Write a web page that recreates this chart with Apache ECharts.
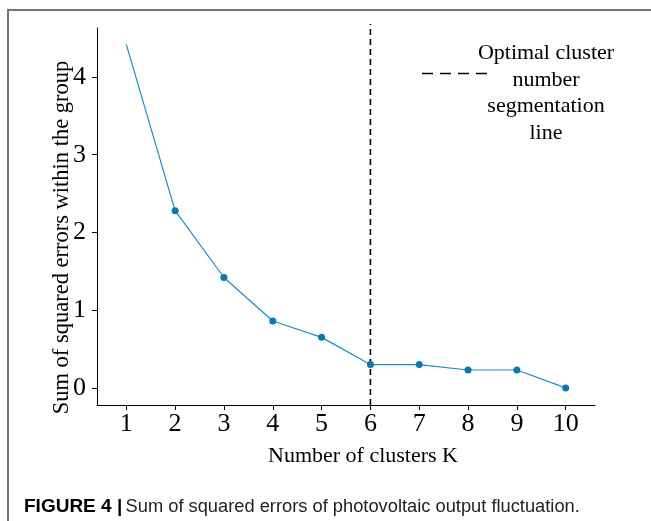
<!DOCTYPE html>
<html>
<head>
<meta charset="utf-8">
<script src="https://cdn.jsdelivr.net/npm/echarts@6/dist/echarts.min.js"></script>
<style>html,body{margin:0;padding:0;background:#fff;}#c{width:651px;height:521px;}</style>
</head>
<body>
<div id="c"></div>
<script>
const clusters = [1, 2, 3, 4, 5, 6, 7, 8, 9, 10];
const sse = [4.42, 2.28, 1.42, 0.86, 0.65, 0.30, 0.30, 0.23, 0.23, 0.00];
const yTicks = [0, 1, 2, 3, 4];
const optimalK = 6;
const yAxisTitle = 'Sum of squared errors within the group';
const xAxisTitle = 'Number of clusters K';
const legendLines = ['Optimal cluster', 'number', 'segmentation', 'line'];
const captionBold = 'FIGURE 4 |';
const captionText = 'Sum of squared errors of photovoltaic output fluctuation.';

const serif = '"Liberation Serif", "Times New Roman", serif';
const yMin = -0.22, yMax = 4.63;

const chart = echarts.init(document.getElementById('c'), null, {renderer: 'canvas'});
chart.setOption({
  animation: false,
  backgroundColor: '#fff',
  grid: {left: 97, right: 56, top: 28, bottom: 116},
  xAxis: {
    type: 'value', min: 0.4, max: 10.6,
    axisLine: {show: true, onZero: false, lineStyle: {color: '#000', width: 1}},
    axisTick: {show: true, customValues: clusters, length: 5, lineStyle: {color: '#000'}},
    axisLabel: {customValues: clusters, color: '#000', fontFamily: serif, fontSize: 26, margin: 6},
    splitLine: {show: false}
  },
  yAxis: {
    type: 'value', min: yMin, max: yMax,
    axisLine: {show: true, onZero: false, lineStyle: {color: '#000', width: 1}},
    axisTick: {show: true, customValues: yTicks, length: 5, lineStyle: {color: '#000'}},
    axisLabel: {customValues: yTicks, color: '#000', fontFamily: serif, fontSize: 26, margin: 11},
    splitLine: {show: false}
  },
  series: [
    {
      type: 'line',
      data: clusters.map((k, i) => i === 0 ? {value: [k, sse[i]], symbol: 'none'} : [k, sse[i]]),
      symbol: 'circle', symbolSize: 7,
      lineStyle: {color: '#1a8ec8', width: 1.2},
      itemStyle: {color: '#0a78b2'},
      z: 3
    },
    {
      type: 'line',
      data: [[optimalK, yMin], [optimalK, 4.68]],
      symbol: 'none', clip: false,
      lineStyle: {color: '#000', width: 1.6, type: [6, 4]},
      z: 2
    }
  ],
  graphic: [
    {type: 'polyline', shape: {points: [[8, 521], [8, 10], [651, 10]]}, style: {stroke: '#737373', lineWidth: 2, fill: null}},
    {type: 'line', shape: {x1: 422, y1: 73.5, x2: 488, y2: 73.5}, style: {stroke: '#000', lineWidth: 1.6, lineDash: [11, 7]}},
    {type: 'text', x: 546, y: 40, style: {text: legendLines.join('\n'), font: '22px ' + serif, fill: '#000', align: 'center', verticalAlign: 'top', lineHeight: 26.5}},
    {type: 'text', x: 62, y: 237.5, rotation: Math.PI / 2, style: {text: yAxisTitle, font: '22.5px ' + serif, fill: '#000', align: 'center', verticalAlign: 'middle'}},
    {type: 'text', x: 363, y: 456, style: {text: xAxisTitle, font: '22px ' + serif, fill: '#000', align: 'center', verticalAlign: 'middle'}},
    {type: 'text', x: 24, y: 507, style: {text: '{b|' + captionBold + '} {n|' + captionText + '}', verticalAlign: 'middle', rich: {
      b: {font: 'bold 19px "Liberation Sans", Arial, sans-serif', fill: '#000'},
      n: {font: '18.3px "Liberation Sans", Arial, sans-serif', fill: '#222'}
    }}}
  ]
});
</script>
</body>
</html>
